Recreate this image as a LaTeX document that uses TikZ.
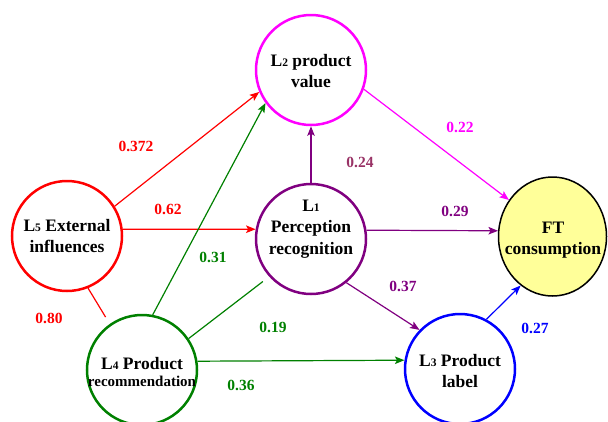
\documentclass[tikz,border=0pt]{standalone}
\usepackage{fontspec}
\setmainfont{Liberation Serif}
\usetikzlibrary{arrows.meta,shapes.geometric}
\definecolor{cgreen}{RGB}{0,128,0}
\definecolor{cpurple}{RGB}{128,0,128}
\definecolor{cmag}{RGB}{255,0,255}
\definecolor{cyell}{RGB}{255,255,153}
\definecolor{cmaroon}{RGB}{153,51,102}
\newcommand\sbs[1]{{\fontsize{11.5}{11.5}\selectfont #1}}
\tikzset{
  lat/.style={circle, draw, line width=2.5pt, minimum size=110pt, inner sep=0pt},
  txt/.style={align=center, font=\bfseries\fontsize{17.5}{21.5}\selectfont},
  coef/.style={font=\bfseries\fontsize{15.5}{15.5}\selectfont, inner sep=0pt},
  arr/.style={-{Stealth[length=9.5pt,width=7.5pt,inset=2pt]}, line width=1.2pt},
  ln/.style={line width=1.2pt}
}
\begin{document}
\begin{tikzpicture}[x=1pt,y=-1pt]
\useasboundingbox (0,0) rectangle (608,421);
% latent variables
\node[lat, draw=cmag] (L2) at (311,70) {};
\node[lat, draw=cpurple] (L1) at (311,239) {};
\node[lat, draw=red] (L5) at (67,236) {};
\node[lat, draw=cgreen] (L4) at (142,370) {};
\node[lat, draw=blue] (L3) at (460,369) {};
\node[ellipse, draw=black, fill=cyell, line width=1.5pt, inner sep=0pt,
      minimum width=108pt, minimum height=119pt] (FT) at (552.5,236.5) {};
% texts
\node[txt] (T2) at (311,71) {L\sbs{2} product\\value};
\node[txt] (T1) at (311,229) {L\sbs{1}\\Perception\\recognition};
\node[txt] (T5) at (67,236) {L\sbs{5} External\\influences};
\node[txt] (T4) at (142,372) {L\sbs{4} Product\\[-4pt]{\fontsize{15}{16}\selectfont recommendation}};
\node[txt] (T3) at (460,371) {L\sbs{3} Product\\label};
\node[txt] (TF) at (553,240) {FT\\consumption};
% connectors
\draw[arr, red] (L5.32) -- (L2.203);
\draw[arr, red] (L5.7) -- (L1.170);
\draw[ln, red, shorten >=8pt] (L5.292) -- (L4.125);
\draw[arr, cgreen] (L4.79) -- (L2.216);
\draw[ln, cgreen, shorten >=8pt] (L4.34) -- (L1.222);
\draw[arr, cgreen] (L4.9) -- (L3.171);
\draw[arr, cpurple] (L1.90) -- (L2.270);
\draw[arr, cpurple] (L1.9) -- (FT.174);
\draw[arr, cpurple] (L1.309) -- (L3.136);
\draw[arr, cmag] (L2.340) -- (FT.140);
\draw[arr, blue] (L3.62) -- (FT.237);
% coefficients
\node[coef, red] (c1) at (136,146) {0.372};
\node[coef, red] (c2) at (168,209) {0.62};
\node[coef, red] (c3) at (49,318) {0.80};
\node[coef, cgreen] (c4) at (213,257) {0.31};
\node[coef, cgreen] (c5) at (273,327) {0.19};
\node[coef, cgreen] (c6) at (241,385) {0.36};
\node[coef, cmaroon] (c7) at (360,162) {0.24};
\node[coef, cpurple] (c8) at (455,211) {0.29};
\node[coef, cpurple] (c9) at (403,286) {0.37};
\node[coef, cmag] (c10) at (460,127) {0.22};
\node[coef, blue] (c11) at (535,328) {0.27};
\end{tikzpicture}
\end{document}
